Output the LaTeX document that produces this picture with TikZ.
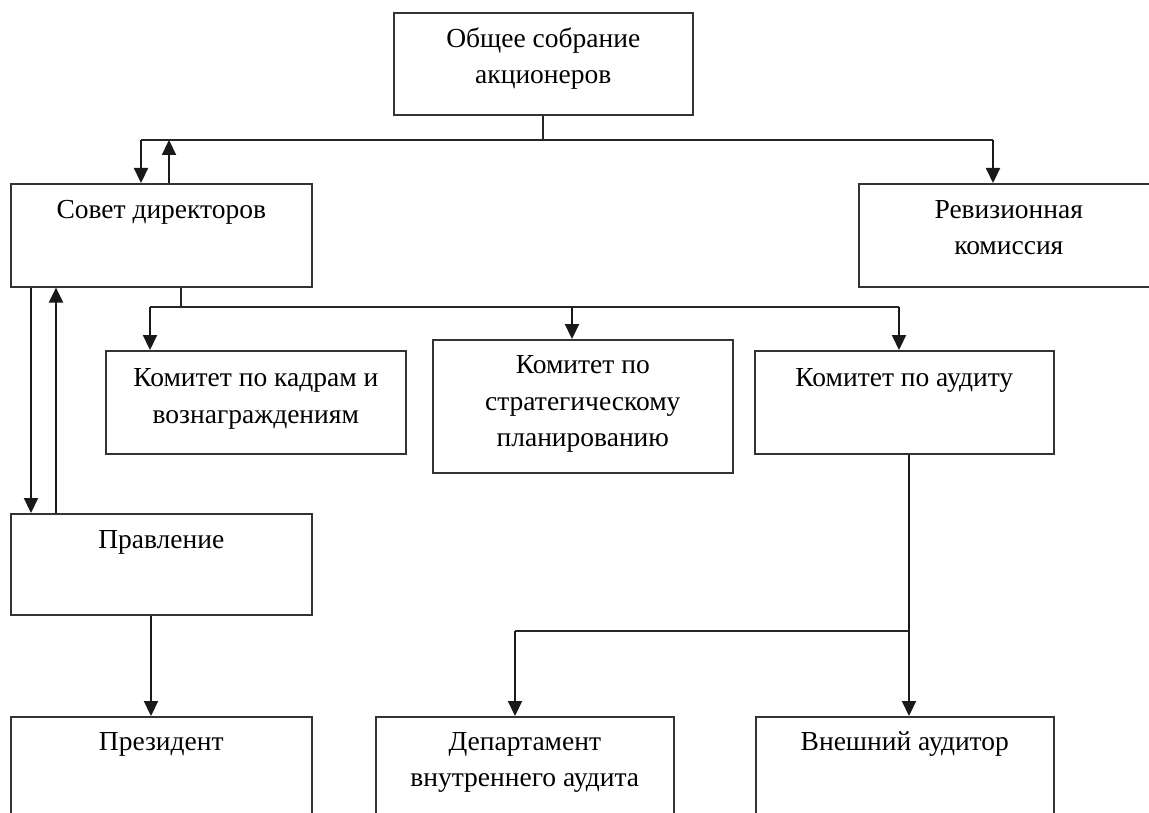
\documentclass[tikz,border=0pt]{standalone}
\usepackage{fontspec}
\setmainfont{Liberation Serif}
\usetikzlibrary{arrows.meta}
\begin{document}
\begin{tikzpicture}[x=1pt,y=-1pt,
  box/.style={draw=black!80, line width=1.6pt, inner sep=0pt, anchor=north west},
  txt/.style={anchor=north, inner sep=0pt, align=center, text=black,
    font=\fontsize{27.5}{36.5}\selectfont},
  conn/.style={draw=black!85, line width=1.7pt},
  arr/.style={draw=black!90, line width=2.2pt, -{Triangle[length=15pt,width=14pt]}}]
\useasboundingbox (0,0) rectangle (1149,813);
\clip (0,0) rectangle (1149,813);
\fill[white] (0,0) rectangle (1149,813);
% boxes
\node[box, minimum width=299pt, minimum height=102pt] (gsm) at (393,12) {};
\node[box, minimum width=301pt, minimum height=103pt] (sd) at (10,183) {};
\node[box, minimum width=300pt, minimum height=103pt] (rk) at (858,183) {};
\node[box, minimum width=300pt, minimum height=103pt] (kk) at (105,350) {};
\node[box, minimum width=300pt, minimum height=133pt] (ksp) at (432,339) {};
\node[box, minimum width=299pt, minimum height=103pt] (ka) at (754,350) {};
\node[box, minimum width=301pt, minimum height=101pt] (pr) at (10,513) {};
\node[box, minimum width=301pt, minimum height=110pt] (pres) at (10,716) {};
\node[box, minimum width=298pt, minimum height=110pt] (dva) at (375,716) {};
\node[box, minimum width=298pt, minimum height=110pt] (va) at (755,716) {};
% texts
\node[txt] (gsm-t) at ([yshift=-9.5pt]gsm.north) {\strut Общее собрание\\акционеров};
\node[txt] (sd-t) at ([yshift=-9.5pt]sd.north) {\strut Совет директоров};
\node[txt] (rk-t) at ([yshift=-9.5pt]rk.north) {\strut Ревизионная\\комиссия};
\node[txt] (kk-t) at ([yshift=-11pt]kk.north) {\strut Комитет по кадрам и\\вознаграждениям};
\node[txt] (ksp-t) at ([yshift=-9pt]ksp.north) {\strut Комитет по\\стратегическому\\планированию};
\node[txt] (ka-t) at ([yshift=-11pt]ka.north) {\strut Комитет по аудиту};
\node[txt] (pr-t) at ([yshift=-9.5pt]pr.north) {\strut Правление};
\node[txt] (pres-t) at ([yshift=-8.5pt]pres.north) {\strut Президент};
\node[txt] (dva-t) at ([yshift=-8.5pt]dva.north) {\strut Департамент\\внутреннего аудита};
\node[txt] (va-t) at ([yshift=-8.5pt]va.north) {\strut Внешний аудитор};
% connector coordinates
\coordinate (busL) at (141,140);
\coordinate (busR) at (993,140);
\coordinate (upA) at (169,140);
\coordinate (dnL) at (31,400);
\coordinate (upL) at (56,400);
\coordinate (sdStem) at (181,307);
\coordinate (bus2L) at (150,307);
\coordinate (bus2M) at (572,307);
\coordinate (bus2R) at (899,307);
\coordinate (prA) at (151,660);
\coordinate (kaV) at (909,631);
\coordinate (kaL) at (515,631);
% top level
\draw[conn] (gsm.south) -- (gsm.south |- busL);
\draw[conn] (busL) -- (busR);
\draw[arr] (busL) -- (busL |- sd.north);
\draw[arr] (upA |- sd.north) -- (upA);
\draw[arr] (busR) -- (busR |- rk.north);
% board <-> management
\draw[arr] (dnL |- sd.south) -- (dnL |- pr.north);
\draw[arr] (upL |- pr.north) -- (upL |- sd.south);
% committees
\draw[conn] (sdStem |- sd.south) -- (sdStem);
\draw[conn] (bus2L) -- (bus2R);
\draw[arr] (bus2L) -- (bus2L |- kk.north);
\draw[arr] (bus2M) -- (bus2M |- ksp.north);
\draw[arr] (bus2R) -- (bus2R |- ka.north);
% management -> president
\draw[arr] (prA |- pr.south) -- (prA |- pres.north);
% audit committee
\draw[arr] (kaV |- ka.south) -- (kaV |- va.north);
\draw[conn] (kaV) -- (kaL);
\draw[arr] (kaL) -- (kaL |- dva.north);
\end{tikzpicture}
\end{document}
